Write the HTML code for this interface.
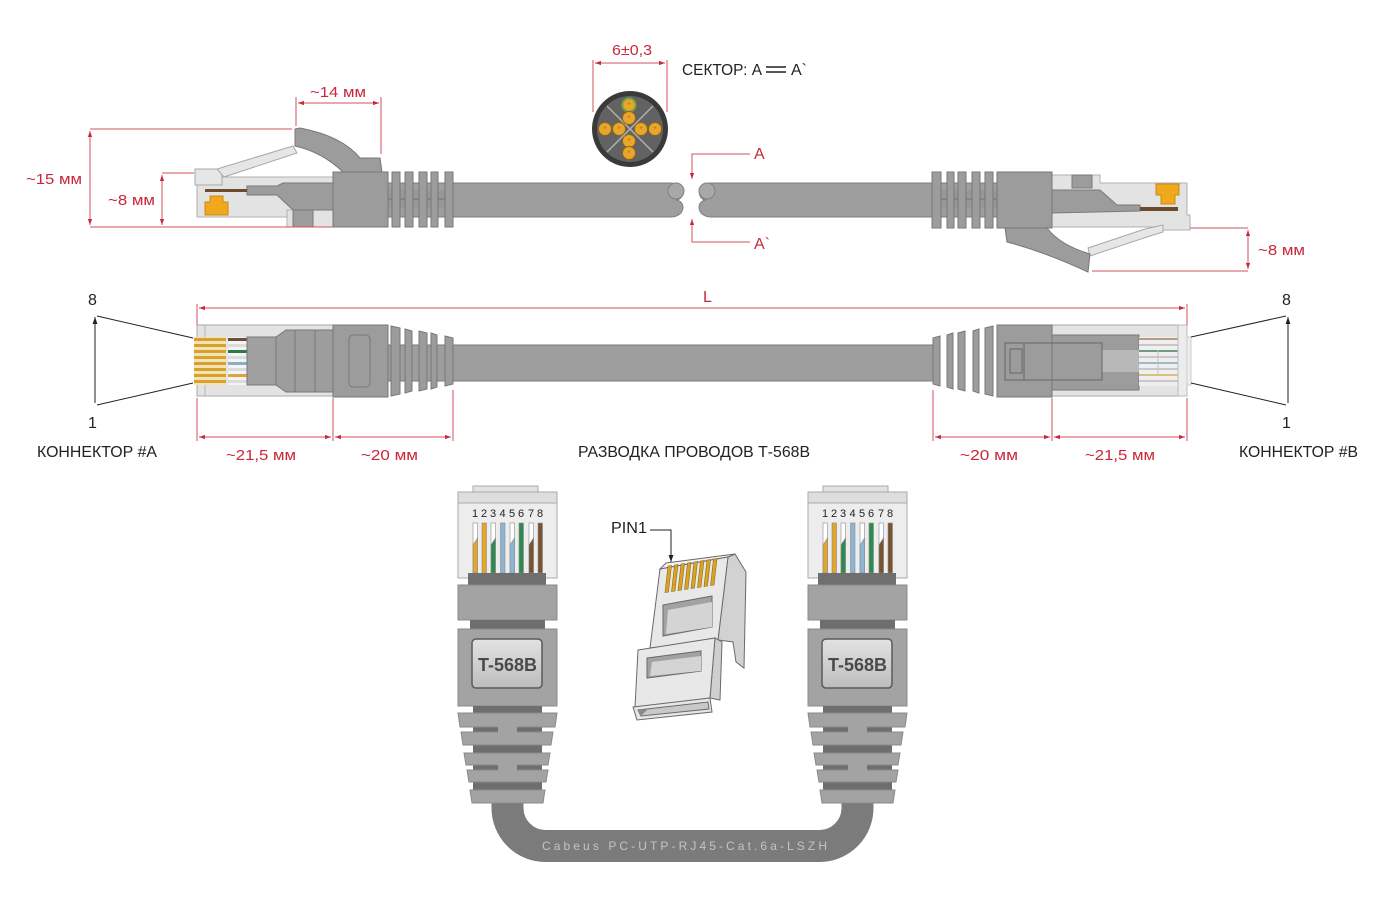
<!DOCTYPE html>
<html><head><meta charset="utf-8"><style>
html,body{margin:0;padding:0;background:#fff;}
svg{display:block;}
text{font-family:"Liberation Sans","DejaVu Sans",sans-serif;}
</style></head><body>
<svg width="1400" height="913" viewBox="0 0 1400 913" xmlns="http://www.w3.org/2000/svg">
<defs>
<marker id="ar" viewBox="0 0 10 10" refX="10" refY="5" markerWidth="6" markerHeight="6" orient="auto-start-reverse"><path d="M0,1.5 L10,5 L0,8.5 z" fill="#c8283a"/></marker>
<marker id="ak" viewBox="0 0 10 10" refX="10" refY="5" markerWidth="7" markerHeight="7" orient="auto-start-reverse"><path d="M0,1.5 L10,5 L0,8.5 z" fill="#222"/></marker>
<linearGradient id="lbl" x1="0" y1="0" x2="0" y2="1"><stop offset="0" stop-color="#e2e2e2"/><stop offset="1" stop-color="#bdbdbd"/></linearGradient>
</defs>

<!-- ================= TOP ROW ================= -->
<g stroke-width="1">
<!-- cables -->
<path d="M385,183 L670,183 C684,183 686,198 677,200 C687,203 684,217 671,217 L385,217 Z" fill="#9e9e9e" stroke="#7c7c7c"/>
<circle cx="676" cy="191" r="8" fill="#a8a8a8" stroke="#808080"/>
<path d="M1000,183 L712,183 C698,183 696,198 705,200 C695,203 698,217 711,217 L1000,217 Z" fill="#9e9e9e" stroke="#7c7c7c"/>
<circle cx="707" cy="191" r="8" fill="#a8a8a8" stroke="#808080"/>

<!-- top-left connector -->
<rect x="388" y="190" width="65" height="18" fill="#979797"/>
<line x1="388" y1="199" x2="453" y2="199" stroke="#6f6f6f"/>
<rect x="197" y="177" width="136" height="40" fill="#e3e3e3" stroke="#b0b0b0"/>
<rect x="287" y="210" width="46" height="17" fill="#e3e3e3" stroke="#b0b0b0"/>
<rect x="195" y="169" width="27" height="16" fill="#e6e6e6" stroke="#a8a8a8"/>
<polygon points="217,169 293,146 297,153 224,177" fill="#e6e6e6" stroke="#a8a8a8"/>
<polygon points="247,186 277,186 283,183 333,183 333,210 293,210 277,195 247,195" fill="#9c9c9c" stroke="#7a7a7a"/>
<rect x="205" y="189" width="42" height="3" fill="#6b4a2e"/>
<polygon points="210,196 223,196 223,202 228,202 228,215 205,215 205,202 210,202" fill="#f0a81c" stroke="#c88a10"/>
<rect x="293" y="210" width="20" height="17" fill="#9c9c9c" stroke="#7a7a7a"/>
<path d="M295,129 L300,128 Q342,136 360,158 L380,158 L382,172 L343,172 Q322,152 295,146 Z" fill="#9c9c9c" stroke="#777"/>
<rect x="333" y="172" width="55" height="55" fill="#9c9c9c" stroke="#777"/>
<rect x="392" y="172" width="8" height="55" fill="#9c9c9c" stroke="#777"/>
<rect x="405" y="172" width="8" height="55" fill="#9c9c9c" stroke="#777"/>
<rect x="419" y="172" width="8" height="55" fill="#9c9c9c" stroke="#777"/>
<rect x="431" y="172" width="7" height="55" fill="#9c9c9c" stroke="#777"/>
<rect x="445" y="172" width="8" height="55" fill="#9c9c9c" stroke="#777"/>

<!-- top-right connector -->
<rect x="932" y="190" width="65" height="18" fill="#979797"/>
<line x1="932" y1="199" x2="997" y2="199" stroke="#6f6f6f"/>
<polygon points="1052,175 1100,175 1100,183 1187,183 1187,215 1190,215 1190,230 1163,230 1163,227 1052,227" fill="#e3e3e3" stroke="#b0b0b0"/>
<rect x="1072" y="175" width="20" height="13" fill="#9c9c9c" stroke="#7a7a7a"/>
<polygon points="1052,190 1100,190 1117,205 1140,205 1140,211 1052,213" fill="#9c9c9c" stroke="#7a7a7a"/>
<rect x="1140" y="207" width="38" height="4" fill="#6b4a2e"/>
<polygon points="1156,184 1179,184 1179,195 1175,195 1175,204 1161,204 1161,195 1156,195" fill="#f0a81c" stroke="#c88a10"/>
<polygon points="1145,229 1163,225 1163,232 1150,236 1090,256 1088,248" fill="#e6e6e6" stroke="#a8a8a8"/>
<path d="M1005,228 L1007,242 Q1045,252 1088,272 L1090,254 Q1060,245 1047,228 Z" fill="#9c9c9c" stroke="#777"/>
<rect x="997" y="172" width="55" height="56" fill="#9c9c9c" stroke="#777"/>
<rect x="932" y="172" width="9" height="56" fill="#9c9c9c" stroke="#777"/>
<rect x="947" y="172" width="7" height="56" fill="#9c9c9c" stroke="#777"/>
<rect x="958" y="172" width="8" height="56" fill="#9c9c9c" stroke="#777"/>
<rect x="972" y="172" width="8" height="56" fill="#9c9c9c" stroke="#777"/>
<rect x="985" y="172" width="8" height="56" fill="#9c9c9c" stroke="#777"/>
</g>

<!-- top dimensions -->
<g stroke="#d0505f" stroke-width="1" fill="none">
<line x1="90" y1="129" x2="292" y2="129"/>
<line x1="90" y1="227" x2="333" y2="227"/>
<line x1="90" y1="131" x2="90" y2="225" marker-start="url(#ar)" marker-end="url(#ar)"/>
<line x1="162" y1="173" x2="194" y2="173"/>
<line x1="162" y1="175" x2="162" y2="225" marker-start="url(#ar)" marker-end="url(#ar)"/>
<line x1="296" y1="97" x2="296" y2="126"/>
<line x1="381" y1="97" x2="381" y2="154"/>
<line x1="298" y1="103" x2="379" y2="103" marker-start="url(#ar)" marker-end="url(#ar)"/>
<line x1="1190" y1="228" x2="1248" y2="228"/>
<line x1="1092" y1="271" x2="1248" y2="271"/>
<line x1="1248" y1="230" x2="1248" y2="269" marker-start="url(#ar)" marker-end="url(#ar)"/>
<line x1="593" y1="60" x2="593" y2="112"/>
<line x1="667" y1="60" x2="667" y2="112"/>
<line x1="595" y1="63" x2="665" y2="63" marker-start="url(#ar)" marker-end="url(#ar)"/>
<polyline points="750,154 692,154 692,179" marker-end="url(#ar)"/>
<polyline points="750,242 692,242 692,219" marker-end="url(#ar)"/>
</g>
<g fill="#c8283a" font-size="15">
<text x="310" y="97" textLength="56" lengthAdjust="spacingAndGlyphs">~14 мм</text>
<text x="26" y="184" textLength="56" lengthAdjust="spacingAndGlyphs">~15 мм</text>
<text x="108" y="205" textLength="47" lengthAdjust="spacingAndGlyphs">~8 мм</text>
<text x="1258" y="255" textLength="47" lengthAdjust="spacingAndGlyphs">~8 мм</text>
<text x="612" y="55" textLength="40" lengthAdjust="spacingAndGlyphs">6±0,3</text>
<text x="754" y="159" font-size="16">A</text>
<text x="754" y="249" font-size="16">A`</text>
</g>
<g fill="#222" font-size="16">
<text x="682" y="75" textLength="80" lengthAdjust="spacingAndGlyphs">СЕКТОР: A</text>
<text x="791" y="75">A`</text>
</g>
<line x1="766" y1="67" x2="786" y2="67" stroke="#222" stroke-width="1.5"/>
<line x1="766" y1="72" x2="786" y2="72" stroke="#222" stroke-width="1.5"/>

<!-- cross-section -->
<circle cx="630" cy="129" r="38" fill="#3a3a3a"/>
<circle cx="630" cy="129" r="33" fill="#626262"/>
<g stroke="#b0b0b0" stroke-width="1.5">
<line x1="607" y1="106" x2="653" y2="152"/>
<line x1="653" y1="106" x2="607" y2="152"/>
</g>
<g stroke="#8a6420" stroke-width="1">
<circle cx="629" cy="105" r="6.5" fill="#e8a62a" stroke="#7aa838" stroke-width="2"/>
<circle cx="629" cy="118" r="6.5" fill="#e8a62a"/>
<circle cx="605" cy="129" r="6.5" fill="#e8a62a"/>
<circle cx="619" cy="129" r="6.5" fill="#e8a62a"/>
<circle cx="641" cy="129" r="6.5" fill="#e8a62a"/>
<circle cx="655" cy="129" r="6.5" fill="#e8a62a"/>
<circle cx="629" cy="141" r="6.5" fill="#e8a62a"/>
<circle cx="629" cy="153" r="6.5" fill="#e8a62a"/>
</g>
<g fill="#b07818" font-size="8" text-anchor="middle">
<text x="629" y="108">*</text><text x="629" y="121">*</text><text x="605" y="132">*</text><text x="619" y="132">*</text>
<text x="641" y="132">*</text><text x="655" y="132">*</text><text x="629" y="144">*</text><text x="629" y="156">*</text>
</g>

<!-- ================= MIDDLE ROW ================= -->
<rect x="388" y="345" width="545" height="36" fill="#9e9e9e" stroke="#7a7a7a"/>
<!-- connector A -->
<rect x="197" y="325" width="136" height="71" fill="#e3e3e3" stroke="#aaa"/>
<line x1="205" y1="325" x2="205" y2="396" stroke="#b5b5b5"/>
<rect x="194" y="337" width="32" height="48" fill="#f3e2b8"/>
<g fill="#d6a22a">
<rect x="194" y="338" width="32" height="3"/><rect x="194" y="344" width="32" height="3"/>
<rect x="194" y="350" width="32" height="3"/><rect x="194" y="356" width="32" height="3"/>
<rect x="194" y="362" width="32" height="3"/><rect x="194" y="368" width="32" height="3"/>
<rect x="194" y="374" width="32" height="3"/><rect x="194" y="380" width="32" height="3"/>
</g>
<rect x="228" y="337" width="19" height="48" fill="#f4f4f4"/>
<rect x="228" y="338" width="19" height="3" fill="#6b4f33"/>
<rect x="228" y="344" width="19" height="3" fill="#dcdcdc"/>
<rect x="228" y="350" width="19" height="3" fill="#2a7a4a"/>
<rect x="228" y="356" width="19" height="3" fill="#dcdcdc"/>
<rect x="228" y="362" width="19" height="3" fill="#8aaec4"/>
<rect x="228" y="368" width="19" height="3" fill="#dcdcdc"/>
<rect x="228" y="374" width="19" height="3" fill="#d8a540"/>
<rect x="228" y="380" width="19" height="3" fill="#dcdcdc"/>
<rect x="247" y="337" width="29" height="48" fill="#a0a0a0" stroke="#777"/>
<polygon points="276,337 286,330 333,330 333,392 286,392 276,385" fill="#9d9d9d" stroke="#777"/>
<line x1="295" y1="330" x2="295" y2="392" stroke="#777"/>
<line x1="315" y1="330" x2="315" y2="392" stroke="#777"/>
<rect x="333" y="325" width="55" height="72" fill="#9c9c9c" stroke="#777"/>
<rect x="349" y="335" width="21" height="52" rx="4" fill="none" stroke="#777"/>
<g fill="#9c9c9c" stroke="#777">
<polygon points="391,326 400,328 400,394 391,396"/>
<polygon points="405,329 412,331 412,391 405,393"/>
<polygon points="419,331 427,333 427,389 419,391"/>
<polygon points="431,333 437,335 437,387 431,389"/>
<polygon points="445,336 453,338 453,384 445,386"/>
</g>
<!-- connector B -->
<g fill="#9c9c9c" stroke="#777">
<polygon points="933,338 940,336 940,386 933,384"/>
<polygon points="947,335 953,333 953,389 947,387"/>
<polygon points="958,333 965,331 965,391 958,389"/>
<polygon points="973,331 979,329 979,393 973,391"/>
<polygon points="985,328 993,326 993,396 985,394"/>
</g>
<rect x="1052" y="325" width="135" height="71" fill="#e3e3e3" stroke="#aaa"/>
<rect x="1052" y="335" width="87" height="55" fill="#9c9c9c" stroke="#777"/>
<rect x="1102" y="350" width="37" height="22" fill="#b8b8b8"/>
<rect x="1139" y="337" width="39" height="49" fill="#efefef"/>
<rect x="1139" y="338" width="39" height="2" fill="#b59a80"/>
<rect x="1139" y="344" width="39" height="2" fill="#c8c8c8"/>
<rect x="1139" y="350" width="39" height="2" fill="#6f9a84"/>
<rect x="1139" y="356" width="39" height="2" fill="#c8c8c8"/>
<rect x="1139" y="362" width="39" height="2" fill="#9fb8c8"/>
<rect x="1139" y="368" width="39" height="2" fill="#c8c8c8"/>
<rect x="1139" y="374" width="39" height="2" fill="#d9bf80"/>
<rect x="1139" y="380" width="39" height="2" fill="#c8c8c8"/>
<line x1="1158" y1="350" x2="1158" y2="374" stroke="#c0c0c0"/>
<rect x="1178" y="325" width="9" height="71" fill="#ececec" stroke="#bbb"/>
<rect x="1187" y="337" width="4" height="48" fill="#eeeeee" stroke="#ccc"/>
<rect x="997" y="325" width="55" height="72" fill="#9c9c9c" stroke="#777"/>
<rect x="1005" y="343" width="97" height="37" fill="none" stroke="#666"/>
<rect x="1005" y="343" width="19" height="37" fill="none" stroke="#666"/>
<rect x="1010" y="349" width="12" height="24" fill="none" stroke="#666"/>

<!-- middle dimensions -->
<g stroke="#d0505f" stroke-width="1" fill="none">
<line x1="199" y1="308" x2="1185" y2="308" marker-start="url(#ar)" marker-end="url(#ar)"/>
<line x1="197" y1="304" x2="197" y2="325"/>
<line x1="1187" y1="304" x2="1187" y2="325"/>
<line x1="197" y1="398" x2="197" y2="441"/>
<line x1="333" y1="398" x2="333" y2="441"/>
<line x1="453" y1="390" x2="453" y2="441"/>
<line x1="933" y1="390" x2="933" y2="441"/>
<line x1="1052" y1="398" x2="1052" y2="441"/>
<line x1="1187" y1="398" x2="1187" y2="441"/>
<line x1="199" y1="437" x2="331" y2="437" marker-start="url(#ar)" marker-end="url(#ar)"/>
<line x1="335" y1="437" x2="451" y2="437" marker-start="url(#ar)" marker-end="url(#ar)"/>
<line x1="935" y1="437" x2="1050" y2="437" marker-start="url(#ar)" marker-end="url(#ar)"/>
<line x1="1054" y1="437" x2="1185" y2="437" marker-start="url(#ar)" marker-end="url(#ar)"/>
</g>
<g fill="#c8283a" font-size="15">
<text x="703" y="302" font-size="16">L</text>
<text x="226" y="460" textLength="70" lengthAdjust="spacingAndGlyphs">~21,5 мм</text>
<text x="361" y="460" textLength="57" lengthAdjust="spacingAndGlyphs">~20 мм</text>
<text x="960" y="460" textLength="58" lengthAdjust="spacingAndGlyphs">~20 мм</text>
<text x="1085" y="460" textLength="70" lengthAdjust="spacingAndGlyphs">~21,5 мм</text>
</g>
<g stroke="#222" stroke-width="1" fill="none">
<line x1="95" y1="403" x2="95" y2="317" marker-end="url(#ak)"/>
<line x1="97" y1="316" x2="193" y2="338"/>
<line x1="97" y1="405" x2="193" y2="383"/>
<line x1="1288" y1="403" x2="1288" y2="317" marker-end="url(#ak)"/>
<line x1="1191" y1="337" x2="1286" y2="316"/>
<line x1="1191" y1="383" x2="1286" y2="405"/>
</g>
<g fill="#222" font-size="16">
<text x="88" y="305">8</text>
<text x="88" y="428">1</text>
<text x="1282" y="305">8</text>
<text x="1282" y="428">1</text>
<text x="37" y="457" textLength="120" lengthAdjust="spacingAndGlyphs">КОННЕКТОР #А</text>
<text x="578" y="457" textLength="232" lengthAdjust="spacingAndGlyphs">РАЗВОДКА ПРОВОДОВ Т-568В</text>
<text x="1239" y="457" textLength="119" lengthAdjust="spacingAndGlyphs">КОННЕКТОР #В</text>
</g>

<!-- ================= BOTTOM ================= -->
<!-- U cable -->
<path d="M507.5,798 L507.5,808 A38,38 0 0 0 545.5,846 L819.5,846 A38,38 0 0 0 857.5,808 L857.5,798" fill="none" stroke="#7b7b7b" stroke-width="32"/>
<text x="542" y="850" font-family="Liberation Mono,monospace" font-size="12" fill="#c4c4c4" textLength="285" lengthAdjust="spacing">Cabeus PC-UTP-RJ45-Cat.6a-LSZH</text>

<g id="vconn">
<rect x="473" y="486" width="65" height="7" fill="#e2e2e2" stroke="#aaa"/>
<rect x="458" y="492" width="99" height="86" fill="#ededed" stroke="#aaa"/>
<rect x="458" y="492" width="99" height="11" fill="#dedede" stroke="#aaa"/>
<g font-size="11" fill="#222" text-anchor="middle">
<text x="475" y="517">1</text><text x="484" y="517">2</text><text x="493" y="517">3</text><text x="502.5" y="517">4</text>
<text x="512" y="517">5</text><text x="521" y="517">6</text><text x="531" y="517">7</text><text x="540" y="517">8</text>
</g>
<g stroke="#8a8a8a" stroke-width="0.6">
<rect x="473" y="523" width="4.5" height="50" fill="#ffffff"/>
<polygon points="473,545 477.5,538 477.5,573 473,573" fill="#e3a52c"/>
<rect x="482" y="523" width="4.5" height="50" fill="#e3a52c"/>
<rect x="491" y="523" width="4.5" height="50" fill="#ffffff"/>
<polygon points="491,545 495.5,538 495.5,573 491,573" fill="#2f8a52"/>
<rect x="500.5" y="523" width="4.5" height="50" fill="#8cb4d4"/>
<rect x="510" y="523" width="4.5" height="50" fill="#ffffff"/>
<polygon points="510,545 514.5,538 514.5,573 510,573" fill="#8cb4d4"/>
<rect x="519" y="523" width="4.5" height="50" fill="#2f8a52"/>
<rect x="529" y="523" width="4.5" height="50" fill="#ffffff"/>
<polygon points="529,545 533.5,538 533.5,573 529,573" fill="#7a5230"/>
<rect x="538" y="523" width="4.5" height="50" fill="#7a5230"/>
</g>
<rect x="468" y="573" width="78" height="12" fill="#6f6f6f"/>
<rect x="458" y="585" width="99" height="35" fill="#a3a3a3" stroke="#8a8a8a"/>
<rect x="470" y="620" width="75" height="9" fill="#6e6e6e"/>
<rect x="458" y="629" width="99" height="77" fill="#a3a3a3" stroke="#8a8a8a"/>
<rect x="472" y="639" width="70" height="49" rx="4" fill="url(#lbl)" stroke="#5a5a5a" stroke-width="1.5"/>
<text x="478" y="671" font-size="18" font-weight="bold" fill="#4a4a4a" textLength="59" lengthAdjust="spacingAndGlyphs">T-568B</text>
<rect x="473" y="706" width="69" height="97" fill="#6e6e6e"/>
<g fill="#a3a3a3" stroke="#8a8a8a">
<polygon points="458,713 557,713 555,727 460,727"/>
<polygon points="461,732 553,732 551,745 463,745"/>
<polygon points="464,753 550,753 548,765 466,765"/>
<polygon points="467,770 548,770 546,782 469,782"/>
<polygon points="470,790 545,790 543,803 472,803"/>
</g>
<rect x="498" y="726" width="19" height="7" fill="#a3a3a3"/>
<rect x="498" y="764" width="19" height="7" fill="#a3a3a3"/>
</g>
<use href="#vconn" transform="translate(350,0)"/>

<!-- center plug -->
<g stroke="#6a6a6a" stroke-width="1">
<polygon points="728,557 735,554 746,572 744,668 736,662 733,642 718,640" fill="#d2d2d2"/>
<polygon points="660,569 666,563 735,554 728,557" fill="#f2f2f2"/>
<polygon points="660,569 728,557 718,640 650,648" fill="#e8e8e8"/>
<polygon points="663,605 712,596 712,627 663,636" fill="#a2a2a2"/>
<polygon points="668,610 712,602 712,627 666,634" fill="#d4d4d4" stroke="none"/>
<polygon points="715,638 722,642 720,700 710,698" fill="#cfcfcf"/>
<polygon points="638,650 715,638 710,698 635,707" fill="#e8e8e8"/>
<polygon points="647,658 701,651 701,671 647,678" fill="#a2a2a2"/>
<polygon points="652,662 701,656 701,671 650,676" fill="#d4d4d4" stroke="none"/>
<polygon points="633,707 710,698 712,712 637,720" fill="#e6e6e6"/>
<polygon points="638,710 708,702 709,709 641,716" fill="#c8c8c8"/>
<polygon points="638,710 648,709 641,716" fill="#8a8a8a" stroke="none"/>
</g>
<g fill="#d9a425" stroke="#8a6a1a" stroke-width="0.6">
<polygon points="668,566 671.5,565.5 668.5,592 665,592.5"/>
<polygon points="674.5,565 678,564.5 675,591 671.5,591.5"/>
<polygon points="681,564 684.5,563.5 681.5,590 678,590.5"/>
<polygon points="687.5,563 691,562.5 688,589 684.5,589.5"/>
<polygon points="694,562 697.5,561.5 694.5,588 691,588.5"/>
<polygon points="700.5,561 704,560.5 701,587 697.5,587.5"/>
<polygon points="707,560 710.5,559.5 707.5,586 704,586.5"/>
<polygon points="713.5,559 717,558.5 714,585 710.5,585.5"/>
</g>
<polyline points="650,530 671,530 671,562" fill="none" stroke="#222" stroke-width="1" marker-end="url(#ak)"/>
<text x="611" y="533" font-size="16" fill="#222" textLength="36" lengthAdjust="spacingAndGlyphs">PIN1</text>
</svg>
</body></html>
